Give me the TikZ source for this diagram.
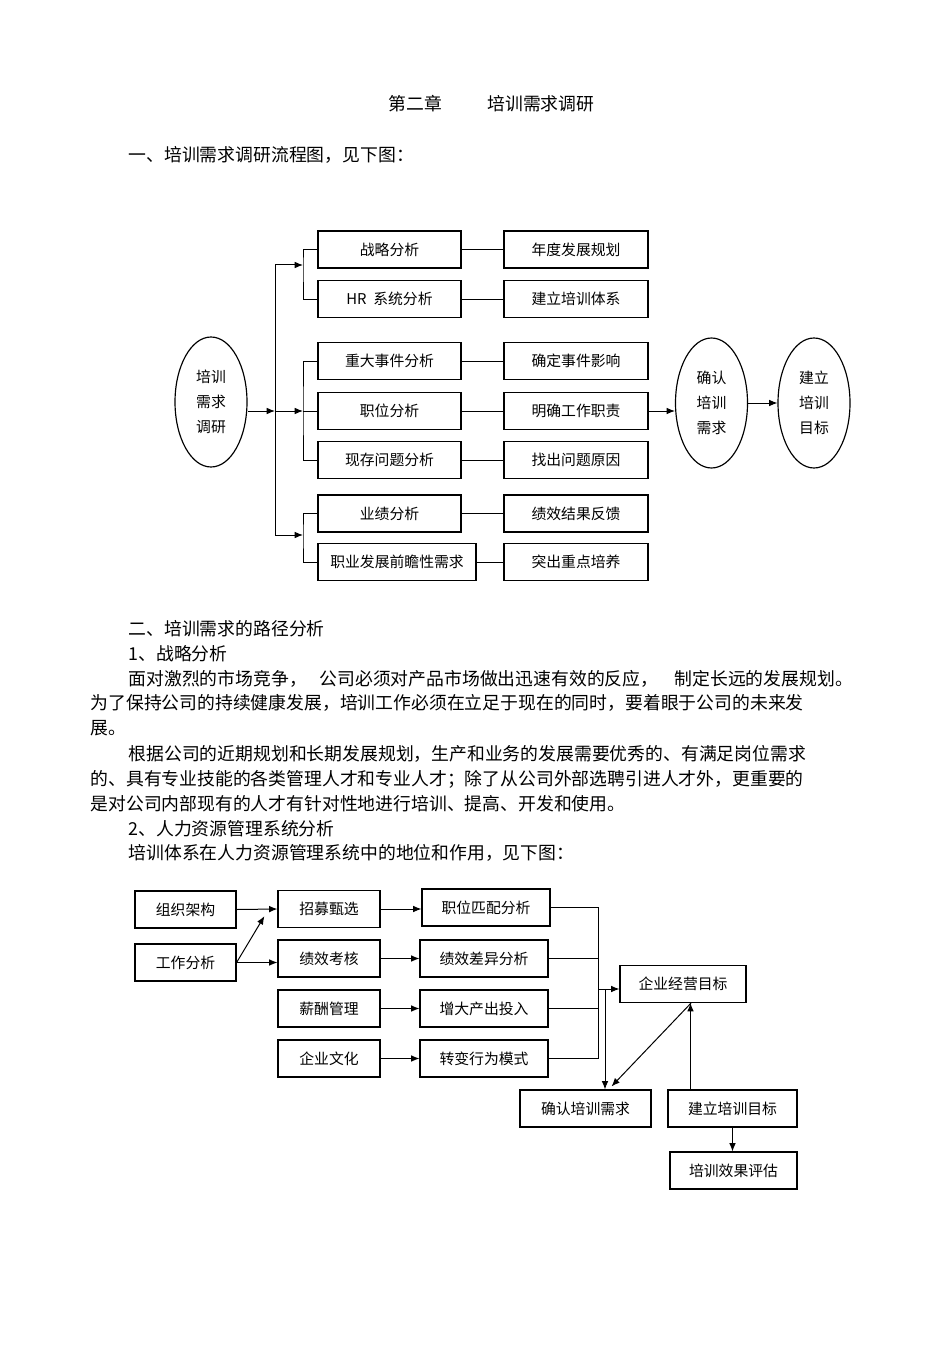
\documentclass[tikz,border=0pt]{standalone}
\usepackage{fontspec}
\setmainfont{Noto Sans CJK SC}
\usetikzlibrary{arrows.meta,shapes.geometric,calc}
\tikzset{
  kuang/.style={draw, line width=0.7pt, minimum height=22.2pt, inner sep=0pt, font=\fontsize{8.9}{10}\selectfont},
  tuoyuan/.style={draw, ellipse, line width=0.7pt, minimum width=43.2pt, minimum height=78pt, inner sep=0pt, align=center, font=\fontsize{8.9}{15}\selectfont},
  wenzi/.style={anchor=west, inner sep=0pt, font=\fontsize{10.7}{12}\selectfont},
}
\begin{document}
\begin{tikzpicture}[x=0.6pt, y=-0.6pt, >={Latex[length=5pt,width=4pt]}, line width=0.6pt]
\useasboundingbox (0,0) rectangle (950,1345);

% page text
\node[wenzi] (biaoti) at (388,104) {第二章\hspace{2.55em}培训需求调研};
\node[wenzi] (yi) at (128,155) {一、培训需求调研流程图，见下图：};
\node[wenzi] (er) at (128,629) {二、培训需求的路径分析};
\node[wenzi] (zl) at (128,654) {1、战略分析};
\node[wenzi] (p1a) at (128,679) {面对激烈的市场竞争，};
\node[wenzi] (p1b) at (319,679) {公司必须对产品市场做出迅速有效的反应，};
\node[wenzi] (p1c) at (674,679) {制定长远的发展规划。};
\node[wenzi] (p1d) at (90,703) {为了保持公司的持续健康发展，培训工作必须在立足于现在的同时，要着眼于公司的未来发};
\node[wenzi] (p1e) at (90,728) {展。};
\node[wenzi] (p2a) at (128,754) {根据公司的近期规划和长期发展规划，生产和业务的发展需要优秀的、有满足岗位需求};
\node[wenzi] (p2b) at (90,779) {的、具有专业技能的各类管理人才和专业人才；除了从公司外部选聘引进人才外，更重要的};
\node[wenzi] (p2c) at (90,804) {是对公司内部现有的人才有针对性地进行培训、提高、开发和使用。};
\node[wenzi] (hr) at (128,829) {2、人力资源管理系统分析};
\node[wenzi] (p3) at (128,853) {培训体系在人力资源管理系统中的地位和作用，见下图：};

% diagram 1
\node[tuoyuan] (xqdy) at (211,402) {培训\\需求\\调研};
\foreach \i/\y/\lx/\lw/\zuo/\you in {
    1/249.5/389.5/85.8pt/战略分析/年度发展规划,
    2/299/389.5/85.8pt/{HR\ \ 系统分析}/建立培训体系,
    3/361/389.5/85.8pt/重大事件分析/确定事件影响,
    4/411/389.5/85.8pt/职位分析/明确工作职责,
    5/460/389.5/85.8pt/现存问题分析/找出问题原因,
    6/513.5/389.5/85.8pt/业绩分析/绩效结果反馈,
    7/562/397/94.8pt/职业发展前瞻性需求/突出重点培养} {
    \node[kuang, minimum width=\lw] (l\i) at (\lx,\y) {\zuo};
    \node[kuang, minimum width=86.4pt] (r\i) at (576,\y) {\you};
    \draw (l\i) -- (r\i);
}
\coordinate (m1) at (275,265);
\coordinate (m2) at (275,411);
\coordinate (m3) at (275,535);
\coordinate (g1) at (303,265);
\coordinate (g2) at (303,411);
\coordinate (g3) at (303,535);
\draw (m1) -- (m3);
\draw[->] (xqdy.east |- m2) -- (m2);
\foreach \k in {1,2,3} {
    \draw[->] (m\k) -- (g\k);
}
\draw (l1.west) -| (g1) |- (l2.west);
\draw (l3.west) -| (g2) |- (l5.west);
\draw (l4.west) -- (g2);
\draw (l6.west) -| (g3) |- (l7.west);
\node[tuoyuan] (qrxq) at (711.5,403) {确认\\培训\\需求};
\node[tuoyuan] (jlmb) at (814,403) {建立\\培训\\目标};
\draw[->] (r4.east) -- (qrxq.west |- r4.east);
\draw[->] (qrxq) -- (jlmb);

% diagram 2
\node[kuang, minimum width=60.6pt] (zzjg) at (185.5,909.5) {组织架构};
\node[kuang, minimum width=60.6pt] (gzfx) at (185.5,962.5) {工作分析};
\node[kuang, minimum width=61.2pt] (zmzx) at (329,909) {招募甄选};
\node[kuang, minimum width=61.2pt] (jxkh) at (329,958.5) {绩效考核};
\node[kuang, minimum width=61.2pt] (xcgl) at (329,1008.5) {薪酬管理};
\node[kuang, minimum width=61.2pt] (qywh) at (329,1058.5) {企业文化};
\node[kuang, minimum width=76.8pt] (zwpp) at (486,907.5) {职位匹配分析};
\node[kuang, minimum width=76.8pt] (jxcy) at (484,958.5) {绩效差异分析};
\node[kuang, minimum width=76.8pt] (zdcc) at (484,1008.5) {增大产出投入};
\node[kuang, minimum width=76.8pt] (zbxw) at (484,1058.5) {转变行为模式};
\node[kuang, minimum width=75.6pt] (jymb) at (683,984) {企业经营目标};
\node[kuang, minimum width=78.6pt] (qrpx) at (585.5,1108.5) {确认培训需求};
\node[kuang, minimum width=77.4pt] (jlpx) at (732.5,1108.5) {建立培训目标};
\node[kuang, minimum width=76.2pt] (pxpg) at (733.5,1170.5) {培训效果评估};

\draw[->] (zzjg.east) -- (zmzx.west);
\draw[->] (gzfx.east) -- ($(zmzx.south west)+(-13,-12)$);
\draw[->] (gzfx.east) -- (gzfx.east -| jxkh.west);
\draw[->] (zmzx.east) -- (zmzx.east -| zwpp.west);
\draw[->] (jxkh) -- (jxcy);
\draw[->] (xcgl) -- (zdcc);
\draw[->] (qywh) -- (zbxw);
\coordinate (b1) at (598,907.5);
\coordinate (b4) at (598,1058.5);
\draw (zwpp.east) -- (b1) -- (b4) -- (zbxw.east);
\draw (jxcy.east) -- (jxcy.east -| b1);
\draw (zdcc.east) -- (zdcc.east -| b1);
\draw[->] ($(jymb.west -| b1)+(0,5)$) -- ($(jymb.west)+(0,5)$);
\coordinate (b5) at (605,989);
\draw[->] (b5) -- (b5 |- qrpx.north);
\draw[->] ($(jymb.south)+(8,0)$) -- ($(qrpx.north)+(26,-3)$);
\coordinate (up) at ($(jlpx.north)+(-42,0)$);
\draw[->] (up) -- (up |- jymb.south);
\draw[->] (jlpx.south) -- (jlpx.south |- pxpg.north);
\end{tikzpicture}
\end{document}
